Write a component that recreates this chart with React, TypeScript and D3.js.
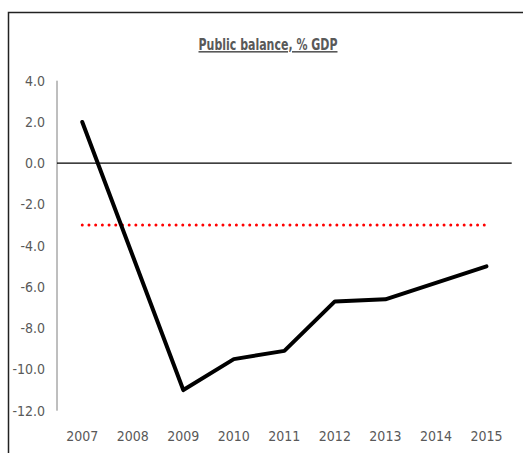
import React from "react";
import * as d3 from "d3";

const years = ["2007", "2008", "2009", "2010", "2011", "2012", "2013", "2014", "2015"];
const balance = [2.0, -4.5, -11.0, -9.5, -9.1, -6.7, -6.6, -5.8, -5.0];
const threshold = -3.0;
const yTicks = [4, 2, 0, -2, -4, -6, -8, -10, -12];
const title = "Public balance, % GDP";

export default function App() {
  const W = 523, H = 453;
  const left = 57, right = 511.7, top = 80.7, bottom = 410.7;
  const x = d3.scaleBand<string>().domain(years).range([left, right]);
  const y = d3.scaleLinear().domain([-12, 4]).range([bottom, top]);
  const cx = (d: string) => (x(d) as number) + x.bandwidth() / 2;
  const line = d3.line<number>().x((_, i) => cx(years[i])).y((d) => y(d));
  const gray = "#595959";
  const font = "'Liberation Sans Narrow', 'DejaVu Sans Condensed', 'Liberation Sans', Arial, sans-serif";
  return (
    <svg width={W} height={H} style={{ position: "absolute", left: 0, top: 0 }}>
      <rect x={0} y={0} width={W} height={H} fill="#fff" />
      <rect x={8.5} y={12.5} width={W + 20} height={H + 20} fill="none" stroke="#222" strokeWidth={1.5} />
      <text x={268} y={50} textAnchor="middle" fontFamily={font} fontSize={16} fontWeight="bold" fill={gray} textLength={139} lengthAdjust="spacingAndGlyphs" style={{ textDecoration: "underline" }}>
        {title}
      </text>
      <line x1={left} x2={left} y1={top} y2={bottom} stroke="#7f7f7f" strokeWidth={1} />
      {yTicks.map((t) => (
        <text key={t} x={45} y={y(t)} dy="0.36em" textAnchor="end" fontFamily={font} fontSize={14} fill={gray}>
          {t.toFixed(1)}
        </text>
      ))}
      {years.map((yr) => (
        <text key={yr} x={cx(yr)} y={441} textAnchor="middle" fontFamily={font} fontSize={14} fill={gray}>
          {yr}
        </text>
      ))}
      <line x1={left} x2={right} y1={y(0)} y2={y(0)} stroke="#000" strokeWidth={1.3} />
      <line x1={cx(years[0])} x2={cx(years[years.length - 1])} y1={y(threshold)} y2={y(threshold)} stroke="#ff0000" strokeWidth={3} strokeLinecap="round" strokeDasharray="0 6.7" />
      <path d={line(balance) || ""} fill="none" stroke="#000" strokeWidth={4} strokeLinecap="round" strokeLinejoin="round" />
    </svg>
  );
}
